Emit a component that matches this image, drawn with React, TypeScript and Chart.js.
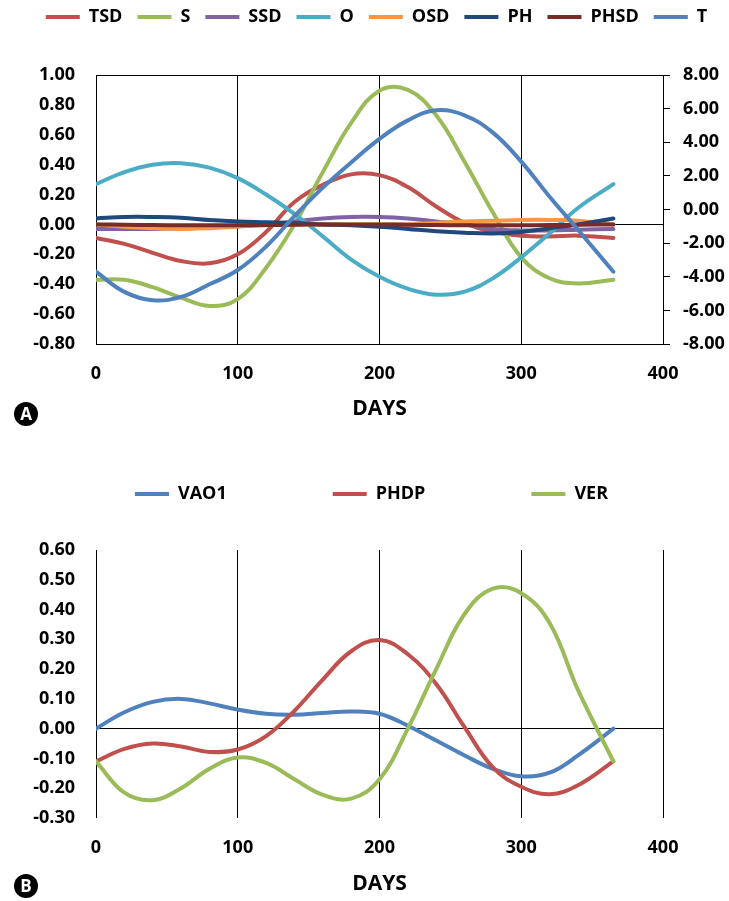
import React, { useEffect, useRef } from 'react';
import { Chart, registerables } from 'chart.js';

Chart.register(...registerables);

const FONT = "'Open Sans', 'DejaVu Sans', sans-serif";

// ---------- shared day grid (x values) ----------
const DAYS = [0, 20, 40, 60, 80, 100, 120, 140, 160, 180, 200, 220, 240, 260, 280, 300, 320, 340, 365];

// ---------- Chart A series (left axis unless noted) ----------
const TSD = [-0.09, -0.13, -0.19, -0.245, -0.26, -0.2, -0.05, 0.15, 0.265, 0.335, 0.33, 0.25, 0.12, 0.01, -0.05, -0.075, -0.08, -0.075, -0.09];
const S = [-0.37, -0.37, -0.42, -0.49, -0.545, -0.5, -0.29, 0.0, 0.35, 0.68, 0.895, 0.9, 0.73, 0.42, 0.08, -0.22, -0.36, -0.395, -0.37];
const SSD = [-0.03, -0.03, -0.03, -0.025, -0.02, -0.01, 0.0, 0.02, 0.04, 0.05, 0.05, 0.04, 0.02, 0.0, -0.03, -0.04, -0.04, -0.035, -0.03];
const O = [0.27, 0.35, 0.4, 0.41, 0.38, 0.31, 0.2, 0.07, -0.08, -0.235, -0.35, -0.43, -0.47, -0.45, -0.36, -0.22, -0.06, 0.11, 0.27];
const OSD = [0.0, -0.015, -0.025, -0.03, -0.025, -0.015, -0.005, 0.0, 0.0, 0.0, 0.0, 0.0, 0.01, 0.02, 0.025, 0.03, 0.03, 0.025, 0.0];
const PH = [0.04, 0.05, 0.05, 0.045, 0.03, 0.02, 0.015, 0.01, 0.0, -0.005, -0.015, -0.03, -0.045, -0.055, -0.06, -0.05, -0.025, 0.0, 0.04];
const PHSD = [0.0, -0.002, -0.004, -0.005, -0.005, -0.005, -0.004, -0.002, 0.0, 0.0, 0.0, -0.002, -0.004, -0.005, -0.005, -0.005, -0.004, -0.002, 0.0];
// T is plotted on the right axis
const T = [-3.7, -4.9, -5.4, -5.2, -4.45, -3.6, -2.2, -0.4, 1.3, 2.8, 4.2, 5.3, 5.9, 5.6, 4.57, 2.85, 0.76, -1.2, -3.7];

// ---------- Chart B series ----------
const VAO1 = [0.0, 0.055, 0.09, 0.1, 0.085, 0.064, 0.05, 0.047, 0.053, 0.058, 0.05, 0.01, -0.04, -0.09, -0.135, -0.16, -0.148, -0.09, 0.0];
const PHDP = [-0.11, -0.068, -0.05, -0.06, -0.078, -0.07, -0.025, 0.06, 0.165, 0.26, 0.298, 0.25, 0.15, 0.005, -0.13, -0.195, -0.22, -0.19, -0.11];
const VER = [-0.11, -0.215, -0.24, -0.2, -0.135, -0.097, -0.115, -0.17, -0.222, -0.235, -0.17, 0.0, 0.2, 0.385, 0.47, 0.455, 0.355, 0.13, -0.11];

// ---------- axes ----------
const X_MIN = 0, X_MAX = 400, X_STEP = 100;
const A_LEFT = { min: -0.8, max: 1.0, step: 0.2 };
const A_RIGHT = { min: -8, max: 8, step: 2 };
const B_LEFT = { min: -0.3, max: 0.6, step: 0.1 };
const X_TITLE = 'DAYS';

const SERIES_A = [
  { name: 'TSD', vals: TSD, color: '#C0504D', axis: 'y' },
  { name: 'S', vals: S, color: '#9BBB59', axis: 'y' },
  { name: 'SSD', vals: SSD, color: '#8064A2', axis: 'y' },
  { name: 'O', vals: O, color: '#4BACC6', axis: 'y' },
  { name: 'OSD', vals: OSD, color: '#F79646', axis: 'y' },
  { name: 'PH', vals: PH, color: '#1F497D', axis: 'y' },
  { name: 'PHSD', vals: PHSD, color: '#772C2A', axis: 'y' },
  { name: 'T', vals: T, color: '#4F81BD', axis: 'y1' },
];

const SERIES_B = [
  { name: 'VAO1', vals: VAO1, color: '#4F81BD', axis: 'y' },
  { name: 'PHDP', vals: PHDP, color: '#C0504D', axis: 'y' },
  { name: 'VER', vals: VER, color: '#9BBB59', axis: 'y' },
];

const pts = (vals: number[]) => DAYS.map((d, i) => ({ x: d, y: vals[i] }));

const legendSpacer = (extra: number) => ({
  id: 'legendSpacer',
  beforeInit(chart: any) {
    const legend = chart.legend;
    if (!legend) return;
    const orig = legend.fit;
    legend.fit = function () {
      orig.call(this);
      this.height += extra;
    };
  },
});

const tickFont = { family: FONT, size: 18, weight: 'bold' as const };
const titleFont = { family: FONT, size: 21, weight: 'bold' as const };
const black = '#000000';
const clear = 'rgba(0,0,0,0)';

function makeDatasets(series: typeof SERIES_A) {
  return series.map((s, i) => ({
    label: s.name,
    data: pts(s.vals),
    borderColor: s.color,
    backgroundColor: s.color,
    borderWidth: 4,
    pointRadius: 0,
    pointHoverRadius: 0,
    tension: 0.4,
    borderCapStyle: 'round' as const,
    borderJoinStyle: 'round' as const,
    fill: false,
    yAxisID: s.axis,
    order: series.length - i,
  }));
}

function legendOpts(padding: number) {
  return {
    display: true,
    position: 'top' as const,
    align: 'center' as const,
    labels: {
      usePointStyle: true,
      pointStyle: 'line',
      pointStyleWidth: 34,
      padding,
      color: black,
      font: tickFont,
      sort: (a: any, b: any) => a.datasetIndex - b.datasetIndex,
    },
  };
}

function ChartA() {
  const ref = useRef<HTMLCanvasElement>(null);
  useEffect(() => {
    if (!ref.current) return;
    const chart = new Chart(ref.current, {
      type: 'line',
      data: { datasets: makeDatasets(SERIES_A) as any },
      options: {
        animation: false,
        responsive: false,
        maintainAspectRatio: false,
        events: [],
        layout: { padding: { left: 24, right: 0, top: 0, bottom: 0 } },
        plugins: {
          legend: legendOpts(15) as any,
          tooltip: { enabled: false },
        },
        scales: {
          x: {
            type: 'linear',
            min: X_MIN,
            max: X_MAX,
            ticks: { stepSize: X_STEP, color: black, font: tickFont, padding: 19 },
            grid: { color: black, drawTicks: false, lineWidth: 1 },
            border: { display: true, color: black },
            title: { display: true, text: X_TITLE, color: black, font: titleFont, padding: { top: 0, bottom: 2 } },
            afterFit: (s: any) => { s.height = 80; },
          },
          y: {
            type: 'linear',
            position: 'left',
            min: A_LEFT.min,
            max: A_LEFT.max,
            ticks: {
              stepSize: A_LEFT.step,
              color: black,
              font: tickFont,
              padding: 21,
              callback: (v: any) => Number(v).toFixed(2),
            },
            grid: {
              drawTicks: false,
              color: (c: any) =>
                c.tick && (Math.abs(c.tick.value) < 1e-9 || Math.abs(c.tick.value - A_LEFT.max) < 1e-9) ? black : clear,
            },
            border: { display: true, color: black },
            afterFit: (s: any) => { s.width = 72; },
          },
          y1: {
            type: 'linear',
            position: 'right',
            min: A_RIGHT.min,
            max: A_RIGHT.max,
            ticks: {
              stepSize: A_RIGHT.step,
              color: black,
              font: tickFont,
              padding: 13,
              callback: (v: any) => Number(v).toFixed(2),
            },
            grid: { drawOnChartArea: false, drawTicks: true, tickLength: 7, color: black },
            border: { display: true, color: black },
            afterFit: (s: any) => { s.width = 66; },
          },
        },
      },
      plugins: [legendSpacer(39)],
    });
    return () => chart.destroy();
  }, []);
  return <canvas ref={ref} width={729} height={431} style={{ position: 'absolute', left: 0, top: -7, display: 'block' }} />;
}

function ChartB() {
  const ref = useRef<HTMLCanvasElement>(null);
  useEffect(() => {
    if (!ref.current) return;
    const chart = new Chart(ref.current, {
      type: 'line',
      data: { datasets: makeDatasets(SERIES_B) as any },
      options: {
        animation: false,
        responsive: false,
        maintainAspectRatio: false,
        events: [],
        layout: { padding: { left: 14, right: 0, top: 0, bottom: 0 } },
        plugins: {
          legend: legendOpts(106) as any,
          tooltip: { enabled: false },
        },
        scales: {
          x: {
            type: 'linear',
            min: X_MIN,
            max: X_MAX,
            ticks: { stepSize: X_STEP, color: black, font: tickFont, padding: 19 },
            grid: { color: black, drawTicks: false, lineWidth: 1 },
            border: { display: false },
            title: { display: true, text: X_TITLE, color: black, font: titleFont, padding: { top: 0, bottom: 1 } },
            afterFit: (s: any) => { s.height = 80; },
          },
          y: {
            type: 'linear',
            position: 'left',
            min: B_LEFT.min,
            max: B_LEFT.max,
            ticks: {
              stepSize: B_LEFT.step,
              color: black,
              font: tickFont,
              padding: 21,
              callback: (v: any) => Number(v).toFixed(2),
            },
            grid: {
              drawTicks: false,
              color: (c: any) => (c.tick && Math.abs(c.tick.value) < 1e-9 ? black : clear),
            },
            border: { display: false },
            afterFit: (s: any) => { s.width = 82; },
          },
          yr: {
            type: 'linear',
            position: 'right',
            display: true,
            ticks: { display: false },
            grid: { display: false, drawTicks: false },
            border: { display: false },
            afterFit: (s: any) => { s.width = 66; },
          },
        },
      },
      plugins: [legendSpacer(37)],
    });
    return () => chart.destroy();
  }, []);
  return <canvas ref={ref} width={729} height={519} style={{ position: 'absolute', left: 0, top: 379, display: 'block' }} />;
}

function Badge({ text, cx, cy }: { text: string; cx: number; cy: number }) {
  return (
    <div
      style={{
        position: 'absolute',
        left: cx - 12,
        top: cy - 12,
        width: 24,
        height: 24,
        borderRadius: '50%',
        background: '#000',
        color: '#fff',
        fontFamily: FONT,
        fontWeight: 700,
        fontSize: 17,
        lineHeight: '24px',
        textAlign: 'center',
      }}
    >
      {text}
    </div>
  );
}

export default function App() {
  return (
    <div
      style={{
        position: 'absolute',
        left: 0,
        top: 0,
        width: 729,
        height: 901,
        overflow: 'hidden',
        background: '#ffffff',
      }}
    >
      <ChartA />
      <ChartB />
      <Badge text="A" cx={26} cy={414} />
      <Badge text="B" cx={26} cy={886} />
    </div>
  );
}
